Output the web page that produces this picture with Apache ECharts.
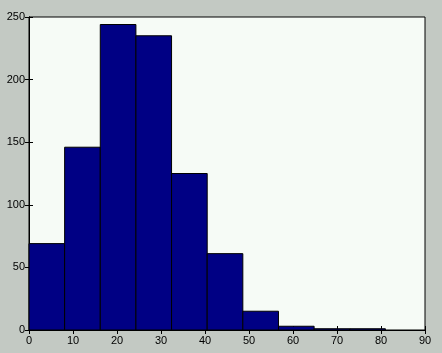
<!DOCTYPE html>
<html>
<head>
<meta charset="utf-8">
<script src="https://cdn.jsdelivr.net/npm/echarts@6/dist/echarts.min.js"></script>
<style>
html,body{margin:0;padding:0;background:#c3c9c3;}
#chart{width:442px;height:353px;}
</style>
</head>
<body>
<div id="chart"></div>
<script>
// Histogram bin edges (left/right) and counts
var binLeft  = [0, 8.1, 16.2, 24.3, 32.4, 40.5, 48.6, 56.7, 64.8, 72.9];
var binRight = [8.1, 16.2, 24.3, 32.4, 40.5, 48.6, 56.7, 64.8, 72.9, 81];
var counts   = [69, 146, 244, 235, 125, 61, 15, 3, 1, 1];
var xTicks = [0, 10, 20, 30, 40, 50, 60, 70, 80, 90];
var yTicks = [0, 50, 100, 150, 200, 250];

var data = binLeft.map(function (l, i) { return [l, binRight[i], counts[i]]; });

var chart = echarts.init(document.getElementById('chart'), null, {renderer: 'canvas'});
var font = {color: '#000', fontFamily: 'Liberation Sans, Arial, sans-serif', fontSize: 11};
var axisLine = {show: true, lineStyle: {color: '#000', width: 1}};
var tick = {show: true, inside: true, length: 4, lineStyle: {color: '#000'}};
chart.setOption({
  backgroundColor: '#c3c9c3',
  animation: false,
  grid: {left: 29, right: 17, top: 17, bottom: 23, show: true, backgroundColor: '#f6fbf6', borderColor: '#000', borderWidth: 1},
  xAxis: [
    {type: 'value', min: xTicks[0], max: xTicks[xTicks.length - 1], interval: 10, position: 'bottom',
     axisLine: axisLine, axisTick: tick, splitLine: {show: false},
     axisLabel: Object.assign({margin: 5}, font)},
    {type: 'value', min: xTicks[0], max: xTicks[xTicks.length - 1], interval: 10, position: 'top',
     axisLine: axisLine, axisTick: tick, splitLine: {show: false}, axisLabel: {show: false}}
  ],
  yAxis: [
    {type: 'value', min: yTicks[0], max: yTicks[yTicks.length - 1], interval: 50, position: 'left',
     axisLine: axisLine, axisTick: tick, splitLine: {show: false},
     axisLabel: Object.assign({margin: 4}, font)},
    {type: 'value', min: yTicks[0], max: yTicks[yTicks.length - 1], interval: 50, position: 'right',
     axisLine: axisLine, axisTick: tick, splitLine: {show: false}, axisLabel: {show: false}}
  ],
  series: [{
    type: 'custom',
    xAxisIndex: 0, yAxisIndex: 0,
    data: data,
    renderItem: function (params, api) {
      var p0 = api.coord([api.value(0), api.value(2)]);
      var p1 = api.coord([api.value(1), 0]);
      return {
        type: 'rect',
        shape: {x: p0[0], y: p0[1], width: p1[0] - p0[0], height: p1[1] - p0[1]},
        style: {fill: '#000084', stroke: '#000', lineWidth: 1}
      };
    }
  }]
});
</script>
</body>
</html>
